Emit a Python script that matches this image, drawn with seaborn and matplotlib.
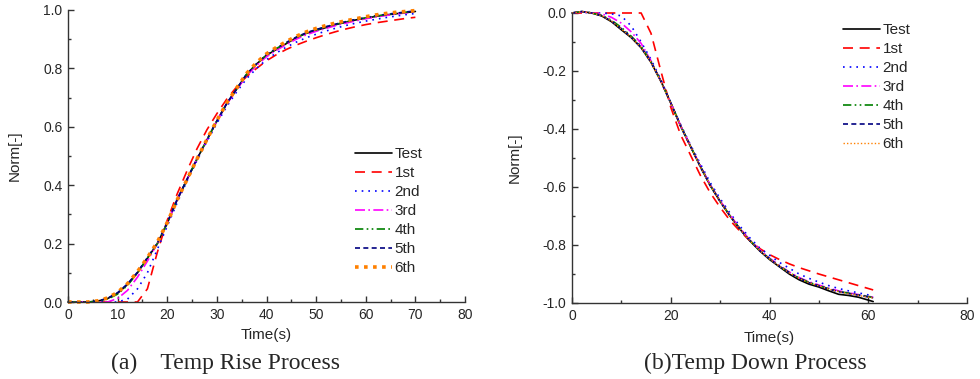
import matplotlib
matplotlib.use("Agg")
import matplotlib.pyplot as plt
import seaborn as sns
import pandas as pd
from matplotlib.ticker import MultipleLocator, FormatStrFormatter

# ---------------- data ----------------
series_names = ["Test", "1st", "2nd", "3rd", "4th", "5th", "6th"]

t_rise = [0, 2, 4, 6, 8, 10, 12, 14, 16, 18, 20, 22, 24, 26, 28, 30, 32, 34,
          36, 38, 40, 42, 44, 46, 48, 50, 52, 54, 56, 58, 60, 62, 64, 66, 68, 70]

rise_test = [0, 0, 0, 0.003, 0.012, 0.03, 0.06, 0.10, 0.15, 0.20, 0.27, 0.35, 0.42, 0.49, 0.555, 0.62, 0.68, 0.73,
             0.78, 0.815, 0.845, 0.865, 0.885, 0.905, 0.92, 0.93, 0.94, 0.95, 0.958, 0.966, 0.972, 0.978, 0.983, 0.987, 0.991, 0.995]
rise_1st = [0, 0, 0, 0, 0, 0, 0, 0, 0.045, 0.17, 0.28, 0.37, 0.45, 0.525, 0.59, 0.645, 0.695, 0.737,
            0.772, 0.80, 0.826, 0.847, 0.865, 0.88, 0.893, 0.905, 0.916, 0.926, 0.935, 0.943, 0.95, 0.956, 0.961, 0.966, 0.971, 0.975]
rise_2nd = [0, 0, 0, 0, 0, 0.0, 0.01, 0.045, 0.10, 0.18, 0.26, 0.34, 0.415, 0.485, 0.55, 0.612, 0.67, 0.72,
            0.765, 0.80, 0.83, 0.853, 0.873, 0.89, 0.905, 0.917, 0.928, 0.938, 0.947, 0.955, 0.962, 0.968, 0.974, 0.979, 0.984, 0.988]
rise_3rd = [0, 0, 0, 0, 0.0, 0.012, 0.04, 0.085, 0.14, 0.20, 0.27, 0.35, 0.42, 0.49, 0.555, 0.62, 0.678, 0.727,
            0.775, 0.81, 0.84, 0.862, 0.882, 0.9, 0.915, 0.927, 0.937, 0.947, 0.955, 0.963, 0.97, 0.976, 0.981, 0.986, 0.99, 0.994]
rise_4th = [0, 0, 0, 0.002, 0.01, 0.027, 0.057, 0.10, 0.15, 0.20, 0.27, 0.35, 0.42, 0.49, 0.556, 0.62, 0.68, 0.73,
            0.78, 0.815, 0.846, 0.868, 0.888, 0.906, 0.921, 0.932, 0.942, 0.951, 0.959, 0.967, 0.973, 0.979, 0.984, 0.988, 0.992, 0.996]
rise_5th = [0, 0, 0, 0.003, 0.013, 0.032, 0.062, 0.102, 0.152, 0.202, 0.272, 0.351, 0.421, 0.491, 0.556, 0.62, 0.68, 0.73,
            0.78, 0.816, 0.847, 0.869, 0.889, 0.907, 0.922, 0.933, 0.943, 0.952, 0.96, 0.968, 0.974, 0.98, 0.985, 0.989, 0.993, 0.997]
rise_6th = [0, 0, 0, 0.004, 0.014, 0.033, 0.063, 0.104, 0.152, 0.205, 0.272, 0.35, 0.42, 0.49, 0.557, 0.622, 0.682, 0.733,
            0.783, 0.82, 0.85, 0.872, 0.892, 0.91, 0.925, 0.937, 0.947, 0.956, 0.963, 0.97, 0.977, 0.983, 0.988, 0.992, 0.995, 0.998]

t_down = [0, 2, 4, 6, 8, 10, 12, 14, 16, 18, 20, 22, 24, 26, 28, 30, 32, 34,
          36, 38, 40, 42, 44, 46, 48, 50, 52, 54, 56, 58, 60, 61]

down_test = [0, 0.005, 0.0, -0.01, -0.03, -0.058, -0.085, -0.12, -0.17, -0.235, -0.31, -0.39, -0.46, -0.53, -0.595, -0.65, -0.70, -0.745,
             -0.785, -0.82, -0.85, -0.875, -0.90, -0.92, -0.935, -0.945, -0.958, -0.97, -0.974, -0.98, -0.99, -0.995]
down_1st = [0, 0, 0, 0, 0, 0, 0, 0, -0.07, -0.20, -0.325, -0.42, -0.49, -0.56, -0.62, -0.67, -0.715, -0.752,
            -0.785, -0.812, -0.833, -0.85, -0.865, -0.878, -0.889, -0.90, -0.91, -0.92, -0.93, -0.94, -0.95, -0.955]
down_2nd = [0, 0.003, 0.0, 0.0, -0.003, -0.01, -0.045, -0.10, -0.16, -0.23, -0.31, -0.385, -0.455, -0.52, -0.585, -0.64, -0.69, -0.735,
            -0.775, -0.81, -0.835, -0.86, -0.88, -0.9, -0.915, -0.928, -0.94, -0.95, -0.958, -0.965, -0.972, -0.975]
down_3rd = [0, 0.004, 0.0, -0.003, -0.015, -0.035, -0.065, -0.105, -0.165, -0.235, -0.31, -0.388, -0.458, -0.527, -0.592, -0.647, -0.697, -0.742,
            -0.782, -0.816, -0.845, -0.87, -0.893, -0.912, -0.927, -0.938, -0.949, -0.958, -0.965, -0.971, -0.977, -0.98]
down_4th = [0, 0.005, 0.0, -0.008, -0.025, -0.05, -0.08, -0.115, -0.168, -0.235, -0.31, -0.389, -0.459, -0.529, -0.594, -0.649, -0.699, -0.744,
            -0.784, -0.818, -0.847, -0.872, -0.895, -0.914, -0.929, -0.94, -0.951, -0.96, -0.966, -0.972, -0.978, -0.981]
down_5th = [0, 0.005, 0.0, -0.009, -0.028, -0.054, -0.083, -0.118, -0.169, -0.235, -0.31, -0.39, -0.46, -0.53, -0.595, -0.65, -0.70, -0.745,
            -0.785, -0.819, -0.848, -0.873, -0.896, -0.915, -0.93, -0.941, -0.952, -0.961, -0.967, -0.973, -0.979, -0.982]
down_6th = [0, 0.005, 0.0, -0.009, -0.028, -0.055, -0.084, -0.119, -0.17, -0.236, -0.311, -0.39, -0.46, -0.53, -0.595, -0.65, -0.70, -0.745,
            -0.785, -0.819, -0.848, -0.873, -0.896, -0.915, -0.93, -0.941, -0.952, -0.961, -0.968, -0.974, -0.98, -0.983]

rise_values = [rise_test, rise_1st, rise_2nd, rise_3rd, rise_4th, rise_5th, rise_6th]
down_values = [down_test, down_1st, down_2nd, down_3rd, down_4th, down_5th, down_6th]

# ---------------- style ----------------
sns.set_theme(style="ticks")
plt.rcParams["font.family"] = ["Liberation Sans", "DejaVu Sans"]

colors = ["#000000", "#FF0000", "#0000FF", "#FF00FF", "#008000", "#000080", "#FF8000"]
styles = ["-", (0, (6, 4)), (0, (1, 3)), (0, (6, 2, 1, 2)), (0, (5, 2, 1, 2, 1, 2)), (0, (3, 2)), (0, (1, 1.5))]
widths_left = [1.2, 1.2, 1.2, 1.2, 1.2, 1.2, 2.6]
widths_right = [1.2, 1.2, 1.2, 1.2, 1.2, 1.2, 1.0]

fig = plt.figure(figsize=(9.8, 3.79), dpi=100)
axL = fig.add_axes([68 / 980, 1 - 302 / 379, (465 - 68) / 980, 292 / 379])
axR = fig.add_axes([572 / 980, 1 - 303 / 379, (967 - 572) / 980, 290 / 379])


def draw(ax, t, values, widths):
    for name, vals, c, ls, lw in zip(series_names, values, colors, styles, widths):
        df = pd.DataFrame({"t": t, "v": vals})
        sns.lineplot(data=df, x="t", y="v", ax=ax, color=c, linestyle=ls,
                     linewidth=lw, label=name, estimator=None, sort=False,
                     clip_on=False)


draw(axL, t_rise, rise_values, widths_left)
draw(axR, t_down, down_values, widths_right)

for ax in (axL, axR):
    sns.despine(ax=ax)
    ax.set_xlim(0, 80)
    ax.yaxis.set_major_locator(MultipleLocator(0.2))
    ax.yaxis.set_minor_locator(MultipleLocator(0.1))
    ax.tick_params(which="both", direction="in", labelsize=10, color="#333333", pad=4)
    ax.tick_params(which="major", length=4, width=1)
    ax.tick_params(which="minor", length=2.5, width=1)
    for s in ("left", "bottom"):
        ax.spines[s].set_color("#333333")
        ax.spines[s].set_linewidth(1.0)
    ax.set_xlabel("Time(s)", fontsize=11)
    ax.set_ylabel("Norm[-]", fontsize=11)
    ax.yaxis.set_major_formatter(FormatStrFormatter("%.1f"))

axL.set_ylim(0, 1.0)
axL.xaxis.set_major_locator(MultipleLocator(10))
axL.xaxis.set_minor_locator(MultipleLocator(5))
axR.set_ylim(-1.0, 0.0)
axR.xaxis.set_major_locator(MultipleLocator(20))
axR.xaxis.set_minor_locator(MultipleLocator(10))

axL.xaxis.set_label_coords(0.5, (302 - 328) / 292)
axR.xaxis.set_label_coords(0.5, (303 - 331) / 290)
axL.yaxis.set_label_coords((22 - 68) / 397, 0.5)
axR.yaxis.set_label_coords((522 - 572) / 395, 0.5)

leg_kw = dict(frameon=False, fontsize=11, handlelength=2.4, handletextpad=0.2,
              labelspacing=0.33, borderpad=0, borderaxespad=0, loc="upper left")
axL.legend(bbox_to_anchor=(355 / 980, 1 - 147 / 379), bbox_transform=fig.transFigure, **leg_kw)
axR.legend(bbox_to_anchor=(843 / 980, 1 - 23 / 379), bbox_transform=fig.transFigure, **leg_kw)

fig.text(225 / 980, 1 - 363 / 379, "(a)    Temp Rise Process", family="Liberation Serif",
         fontsize=17, ha="center", va="center")
fig.text(755 / 980, 1 - 363 / 379, "(b)Temp Down Process", family="Liberation Serif",
         fontsize=17, ha="center", va="center")

fig.savefig("out.png", dpi=100)
